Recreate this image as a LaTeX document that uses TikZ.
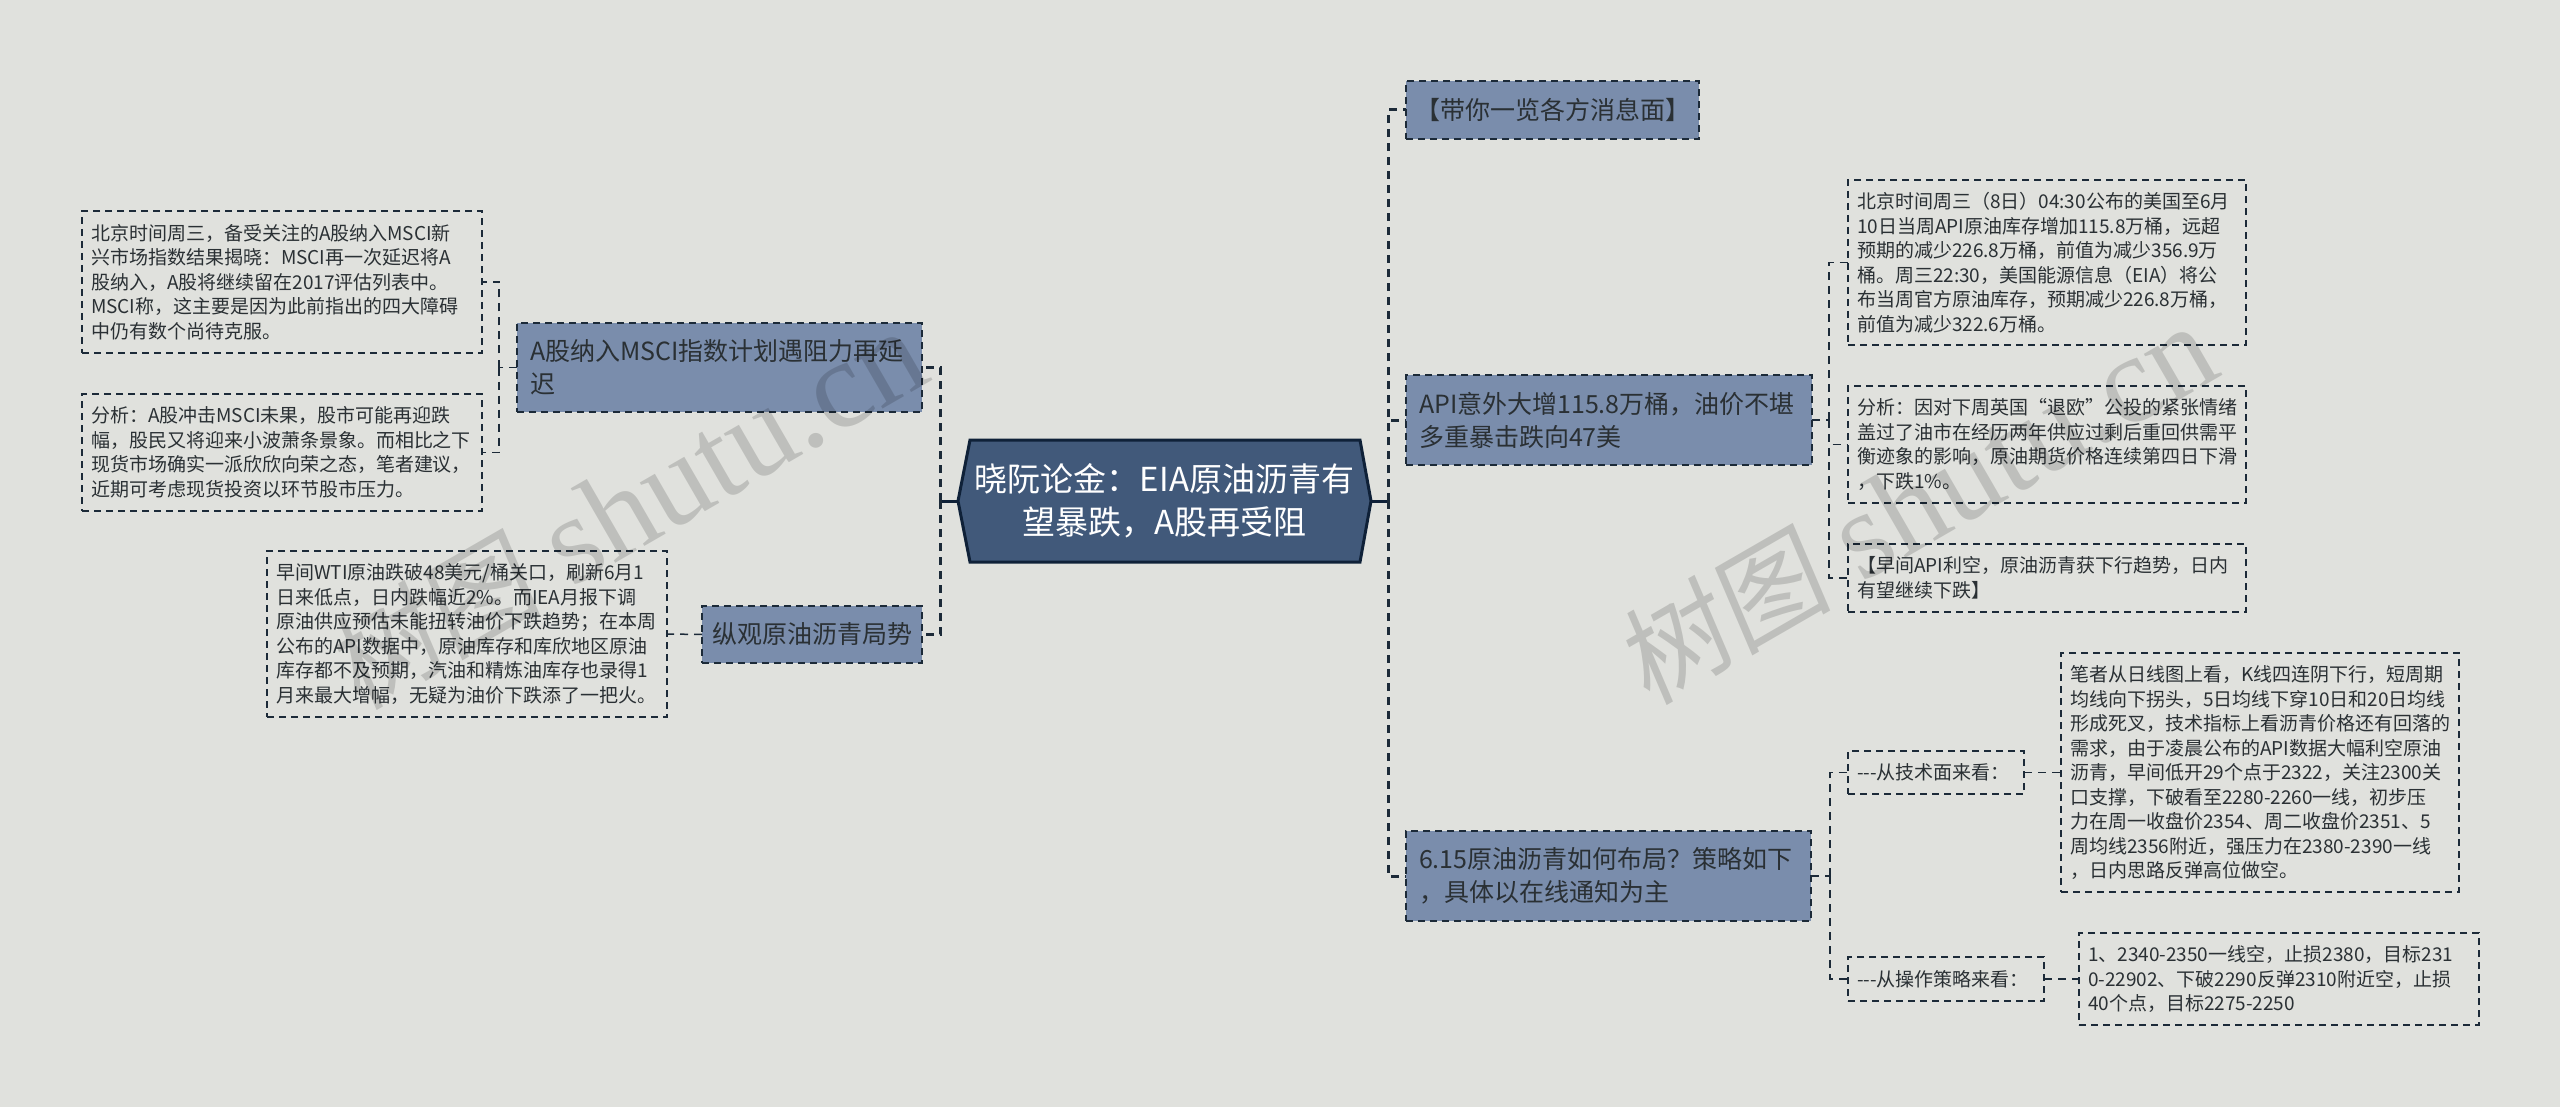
\documentclass[tikz,border=0pt]{standalone}
\usepackage{fontspec}
\setmainfont{Noto Sans CJK SC}
\newfontfamily\wmlatin{Liberation Serif}
\newfontfamily\wmcjk[FakeSlant=0.12]{Noto Sans CJK SC}
\definecolor{bgc}{HTML}{E0E1DD}
\definecolor{rootc}{HTML}{41597A}
\definecolor{rootb}{HTML}{0F2138}
\definecolor{branchc}{HTML}{7A8DAC}
\definecolor{linec}{HTML}{1C2A38}
\definecolor{textc}{HTML}{2A3034}
\tikzset{
  smallbox/.style={draw=linec,line width=1.3pt,dash pattern=on 7pt off 5pt,anchor=north west,
    inner xsep=9pt,inner ysep=0pt,outer sep=0pt,align=left,text=textc,
    font=\fontsize{19}{24.5}\selectfont},
  branchbox/.style={draw=linec,fill=branchc,line width=1.6pt,dash pattern=on 7pt off 5pt,anchor=north west,
    inner xsep=13pt,inner ysep=0pt,outer sep=0pt,align=left,text=textc,
    font=\fontsize{25}{33}\selectfont},
  rootbox/.style={inner sep=0pt,outer sep=0pt,align=center,text=white,
    font=\fontsize{33}{43}\selectfont},
  trunk/.style={draw=linec,line width=3pt,dash pattern=on 8pt off 6pt},
  twig/.style={draw=linec,line width=1.5pt,dash pattern=on 8pt off 6pt},
  rootlink/.style={draw=rootb,line width=3pt},
  wmark/.style={black,opacity=0.15,rotate=30,anchor=base west,inner sep=0pt},
}
\begin{document}
\begin{tikzpicture}[x=1pt,y=-1pt]
\useasboundingbox (0,0) rectangle (2560,1107);
\fill[bgc] (0,0) rectangle (2560,1107);

% hubs
\coordinate (hubL) at (940,501);
\coordinate (hubR) at (1388,501);
\coordinate (hubA) at (499,367.5);
\coordinate (hubAPI) at (1829,420);
\coordinate (hubS) at (1830,876);

% root
\fill[rootc,draw=rootb,line width=3pt,line join=miter] (958,501) -- (970,440) -- (1360,440) -- (1371,501) -- (1360,562) -- (970,562) -- cycle;
\node[rootbox,minimum width=413pt,minimum height=122pt] (root) at (1164.5,501) {晓阮论金：EIA原油沥青有\\望暴跌，A股再受阻};

% left side
\node[branchbox,text width=379pt,minimum height=89pt] (ashare) at (517,323) {A股纳入MSCI指数计划遇阻力再延\\迟};
\node[branchbox,inner xsep=10pt,text width=200pt,minimum height=57pt] (overview) at (702,606) {纵观原油沥青局势};
\node[smallbox,text width=382pt,minimum height=142pt] (l1) at (82,211) {北京时间周三，备受关注的A股纳入MSCI新\\兴市场指数结果揭晓：MSCI再一次延迟将A\\股纳入，A股将继续留在2017评估列表中。\\MSCI称，这主要是因为此前指出的四大障碍\\中仍有数个尚待克服。};
\node[smallbox,text width=382pt,minimum height=117pt] (l2) at (82,394) {分析：A股冲击MSCI未果，股市可能再迎跌\\幅，股民又将迎来小波萧条景象。而相比之下\\现货市场确实一派欣欣向荣之态，笔者建议，\\近期可考虑现货投资以环节股市压力。};
\node[smallbox,text width=382pt,minimum height=166pt] (l3) at (267,551) {早间WTI原油跌破48美元/桶关口，刷新6月1\\日来低点，日内跌幅近2\%。而IEA月报下调\\原油供应预估未能扭转油价下跌趋势；在本周\\公布的API数据中，原油库存和库欣地区原油\\库存都不及预期，汽油和精炼油库存也录得1\\月来最大增幅，无疑为油价下跌添了一把火。};

% right side
\node[branchbox,inner xsep=9pt,text width=275pt,minimum height=58pt] (news) at (1406,81) {【带你一览各方消息面】};
\node[branchbox,text width=380pt,minimum height=90pt] (api) at (1406,375) {API意外大增115.8万桶，油价不堪\\多重暴击跌向47美};
\node[branchbox,text width=379pt,minimum height=90pt] (how) at (1406,831) {6.15原油沥青如何布局？策略如下\\，具体以在线通知为主};
\node[smallbox,text width=380pt,minimum height=165pt] (r1) at (1848,180) {北京时间周三（8日）04:30公布的美国至6月\\10日当周API原油库存增加115.8万桶，远超\\预期的减少226.8万桶，前值为减少356.9万\\桶。周三22:30，美国能源信息（EIA）将公\\布当周官方原油库存，预期减少226.8万桶，\\前值为减少322.6万桶。};
\node[smallbox,text width=380pt,minimum height=117pt] (r2) at (1848,386) {分析：因对下周英国“退欧”公投的紧张情绪\\盖过了油市在经历两年供应过剩后重回供需平\\衡迹象的影响，原油期货价格连续第四日下滑\\，下跌1\%。};
\node[smallbox,text width=380pt,minimum height=68pt] (r3) at (1848,544) {【早间API利空，原油沥青获下行趋势，日内\\有望继续下跌】};
\node[smallbox,text width=158pt,minimum height=43pt] (tech) at (1848,751) {{-}{-}{-}从技术面来看：};
\node[smallbox,text width=178pt,minimum height=44pt] (oper) at (1848,957) {{-}{-}{-}从操作策略来看：};
\node[smallbox,text width=380pt,minimum height=239pt] (rtech) at (2061,653) {笔者从日线图上看，K线四连阴下行，短周期\\均线向下拐头，5日均线下穿10日和20日均线\\形成死叉，技术指标上看沥青价格还有回落的\\需求，由于凌晨公布的API数据大幅利空原油\\沥青，早间低开29个点于2322，关注2300关\\口支撑，下破看至2280-2260一线，初步压\\力在周一收盘价2354、周二收盘价2351、5\\周均线2356附近，强压力在2380-2390一线\\，日内思路反弹高位做空。};
\node[smallbox,text width=382pt,minimum height=92pt] (rop) at (2079,933) {1、2340-2350一线空，止损2380，目标231\\0-22902、下破2290反弹2310附近空，止损\\40个点，目标2275-2250};

% connectors
\draw[rootlink] (root.west) -- (hubL);
\draw[rootlink] (root.east) -- (hubR);
\draw[trunk] (hubL) |- (ashare.east);
\draw[trunk] (hubL) |- (overview.east);
\draw[trunk] (hubR) |- (news.west);
\draw[trunk] (hubR) |- (api.west);
\draw[trunk] (hubR) |- (how.west);
\draw[twig] (ashare.west) -- (hubA);
\draw[twig] (hubA) |- (l1.east);
\draw[twig] (hubA) |- (l2.east);
\draw[twig] (overview.west) -- (l3.east);
\draw[twig] (api.east) -- (hubAPI);
\draw[twig] (hubAPI) |- (r1.west);
\draw[twig] (hubAPI) |- (r2.west);
\draw[twig] (hubAPI) |- (r3.west);
\draw[twig] (how.east) -- (hubS);
\draw[twig] (hubS) |- (tech.west);
\draw[twig] (hubS) |- (oper.west);
\draw[twig] (tech.east) -- (rtech.west |- tech.east);
\draw[twig] (oper.east) -- (rop.west |- oper.east);

% watermarks
\node[wmark] (wm1) at (358,712) {\fontsize{108}{108}\selectfont\wmcjk 树图\hspace{30pt}\fontsize{125}{125}\selectfont\wmlatin shutu.cn};
\node[wmark] (wm2) at (1648,707) {\fontsize{108}{108}\selectfont\wmcjk 树图\hspace{30pt}\fontsize{125}{125}\selectfont\wmlatin shutu.cn};
\end{tikzpicture}
\end{document}
